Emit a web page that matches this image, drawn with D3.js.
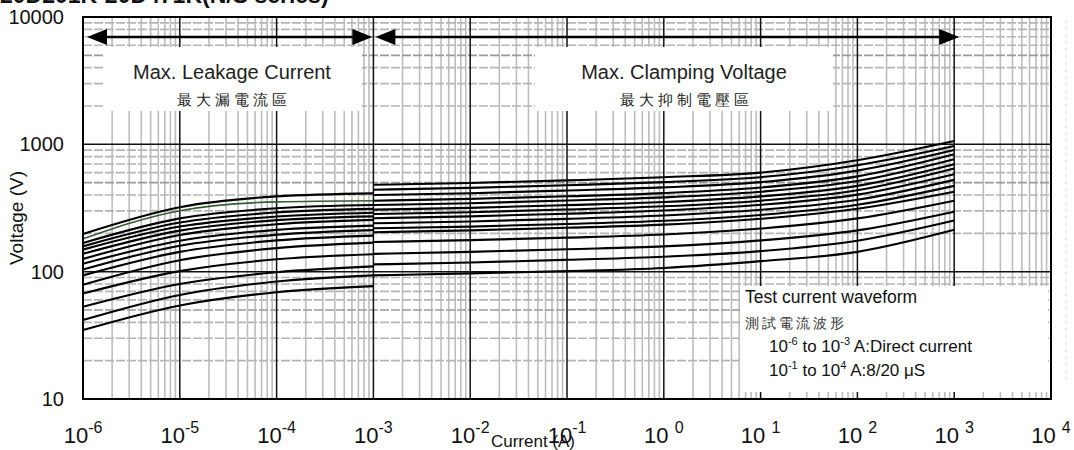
<!DOCTYPE html>
<html><head><meta charset="utf-8">
<script src="https://cdn.jsdelivr.net/npm/d3@7"></script>
<style>
html,body{margin:0;padding:0;background:#fff;}
svg{display:block;}
text{font-family:"Liberation Sans",Arial,sans-serif;}
</style></head>
<body>
<svg id="chart" width="1074" height="450"></svg>
<script>
// ---------------- data ----------------
const title = "20D201K-20D471K(N/S series)";
const xTickExps = [-6,-5,-4,-3,-2,-1,0,1,2,3,4];
const yTickValues = [10,100,1000,10000];
const yTickLabels = ["10","100","1000","10000"];

// Leakage region (DC): current points (A)
const leakCurrents = [1e-6, 1e-5, 1e-4, 1e-3];
const leakSeries = [
  [198, 321, 390, 412],
  [181, 301, 353, 361],
  [168, 262, 315, 334],
  [158, 243, 292, 311],
  [149, 226, 271, 290],
  [138, 210, 254, 272],
  [126, 194, 236, 255],
  [115.5, 175, 213, 230],
  [104, 160, 195, 212],
  [93.5, 143, 176, 192],
  [79, 123, 153, 169],
  [67.3, 101, 125, 137],
  [53, 80, 99, 110],
  [41.7, 65.6, 83.6, 93.5],
  [34.8, 54.3, 69, 77]
];
// Clamping region (8/20us): current points (A)
const clampCurrents = [1e-3, 1e-2, 1e-1, 1, 10, 100, 1000];
const clampSeries = [
  [481, 497, 521, 552, 600, 750, 1061],
  [440, 455, 477, 505, 552, 685, 970],
  [400, 413, 434, 459, 505, 622, 902],
  [361, 373, 391, 414, 458, 560, 835],
  [334, 345, 362, 383, 424, 515, 764],
  [307, 317, 333, 352, 390, 472, 698],
  [284, 293, 308, 326, 361, 436, 646],
  [263, 272, 285, 302, 335, 403, 583],
  [240, 248, 260, 276, 306, 367, 526],
  [219, 226, 237, 251, 279, 335, 472],
  [204, 211, 221, 234, 260, 312, 424],
  [171, 177, 185, 196, 218, 262, 361],
  [138, 143, 150, 158, 176, 211, 296],
  [114, 118, 124, 131, 145, 175, 252],
  [93.5, 97, 101, 107, 121, 143, 213]
];
const regionLabels = [
  {en:"Max. Leakage Current", zh:"最大漏電流區"},
  {en:"Max. Clamping Voltage", zh:"最大抑制電壓區"}
];
const legendLines = ["Test current waveform","測試電流波形"];

// ---------------- layout ----------------
const L = 83, R = 1051, T = 17, B = 399;
const svg = d3.select("#chart");
const x = d3.scaleLog().domain([1e-6, 1e4]).range([L, R]);
const y = d3.scaleLog().domain([10, 10000]).range([B, T]);

// title (partly cut at top, as in the scan)
svg.append("text").attr("x", 0).attr("y", 3)
  .attr("font-family", "'Liberation Serif','DejaVu Serif',serif")
  .attr("font-weight", "bold").attr("font-size", 23).attr("fill", "#111")
  .text(title);

const g = svg.append("g");

// minor vertical grid
const minorX = [];
for (let k = -6; k < 4; k++) for (let m = 2; m <= 9; m++) minorX.push(m * Math.pow(10, k));
g.selectAll(".vmin").data(minorX).enter().append("line")
  .attr("x1", d => x(d)).attr("x2", d => x(d)).attr("y1", T).attr("y2", B)
  .attr("stroke", "#bdbdbd").attr("stroke-width", 1.6);

// minor horizontal grid
const minorY = [];
for (let k = 1; k < 4; k++) for (let m = 2; m <= 9; m++) minorY.push(m * Math.pow(10, k));
g.selectAll(".hmin").data(minorY).enter().append("line")
  .attr("x1", L).attr("x2", R).attr("y1", d => y(d)).attr("y2", d => y(d))
  .attr("stroke", d => (d / Math.pow(10, Math.floor(Math.log10(d)))) === 5 ? "#9a9a9a" : "#b5b5b5")
  .attr("stroke-width", 1.6).attr("stroke-dasharray", "9,2");

// major grid
const majorX = d3.range(-5, 4).map(e => Math.pow(10, e));
g.selectAll(".vmaj").data(majorX).enter().append("line")
  .attr("x1", d => x(d)).attr("x2", d => x(d)).attr("y1", T).attr("y2", B)
  .attr("stroke", "#111").attr("stroke-width", 1.5);
g.selectAll(".hmaj").data([100, 1000]).enter().append("line")
  .attr("x1", L).attr("x2", R).attr("y1", d => y(d)).attr("y2", d => y(d))
  .attr("stroke", "#111").attr("stroke-width", 1.5);

// white annotation boxes
const boxes = [
  {x0: 103, x1: 362, y0: 47, y1: 111},
  {x0: 535, x1: 833, y0: 47, y1: 111},
  {x0: 740, x1: 1048, y0: 286, y1: 392}
];
g.selectAll(".box").data(boxes).enter().append("rect")
  .attr("x", d => d.x0).attr("y", d => d.y0)
  .attr("width", d => d.x1 - d.x0).attr("height", d => d.y1 - d.y0)
  .attr("fill", "#fff");

// region arrows
const arrowY = 37;
function arrow(x0, x1, leftHead, rightHead) {
  g.append("line").attr("x1", x0 + 5).attr("x2", x1 - 5).attr("y1", arrowY).attr("y2", arrowY)
    .attr("stroke", "#000").attr("stroke-width", 2.6);
  if (leftHead) g.append("path").attr("d", `M${x0},${arrowY} L${x0 + 20},${arrowY - 8} L${x0 + 20},${arrowY + 8} Z`).attr("fill", "#000");
  if (rightHead) g.append("path").attr("d", `M${x1},${arrowY} L${x1 - 20},${arrowY - 8} L${x1 - 20},${arrowY + 8} Z`).attr("fill", "#000");
}
arrow(x(1e-6) + 4, x(1e-3) - 1, true, true);
arrow(x(1e-3) + 2, x(1e3) + 5, true, true);

// curves
const line = d3.line().x(d => x(d[0])).y(d => y(d[1])).curve(d3.curveMonotoneX);
g.selectAll(".leak").data(leakSeries).enter().append("path")
  .attr("d", s => line(s.map((v, i) => [leakCurrents[i], v])))
  .attr("fill", "none")
  .attr("stroke", (s, i) => i === 1 ? "#335f33" : "#000")
  .attr("stroke-width", (s, i) => i === 1 ? 1.6 : 2.1);
g.selectAll(".clamp").data(clampSeries).enter().append("path")
  .attr("d", s => line(s.map((v, i) => [clampCurrents[i], v])))
  .attr("fill", "none").attr("stroke", "#000").attr("stroke-width", 2.1);

// plot border
g.append("rect").attr("x", L).attr("y", T).attr("width", R - L).attr("height", B - T)
  .attr("fill", "none").attr("stroke", "#000").attr("stroke-width", 2);

// region labels
const labelCx = [232, 684];
regionLabels.forEach((d, i) => {
  svg.append("text").attr("x", labelCx[i]).attr("y", 79).attr("text-anchor", "middle")
    .attr("font-size", 20).attr("fill", "#222").text(d.en);
  svg.append("text").attr("x", labelCx[i] + 2).attr("y", 105).attr("text-anchor", "middle")
    .attr("font-family", "'Noto Sans CJK TC',sans-serif").attr("font-size", 15)
    .attr("letter-spacing", 4).attr("fill", "#222").text(d.zh);
});

// legend text
svg.append("text").attr("x", 745).attr("y", 303).attr("font-size", 17.5).attr("fill", "#111").text(legendLines[0]);
svg.append("text").attr("x", 745).attr("y", 328).attr("font-family", "'Noto Sans CJK TC',sans-serif")
  .attr("font-size", 14).attr("letter-spacing", 3).attr("fill", "#333").text(legendLines[1]);
const l3 = svg.append("text").attr("x", 769).attr("y", 352).attr("font-size", 17).attr("fill", "#111");
l3.append("tspan").text("10");
l3.append("tspan").attr("dy", -7).attr("font-size", 11).text("-6");
l3.append("tspan").attr("dy", 7).text(" to 10");
l3.append("tspan").attr("dy", -7).attr("font-size", 11).text("-3");
l3.append("tspan").attr("dy", 7).text(" A:Direct current");
const l4 = svg.append("text").attr("x", 769).attr("y", 376).attr("font-size", 17).attr("fill", "#111");
l4.append("tspan").text("10");
l4.append("tspan").attr("dy", -7).attr("font-size", 11).text("-1");
l4.append("tspan").attr("dy", 7).text(" to 10");
l4.append("tspan").attr("dy", -7).attr("font-size", 11).text("4");
l4.append("tspan").attr("dy", 7).text("  A:8/20 μS");

// y tick labels
svg.selectAll(".ytl").data(yTickValues).enter().append("text")
  .attr("x", 64).attr("y", d => y(d) + 7).attr("text-anchor", "end")
  .attr("font-size", 20).attr("fill", "#111")
  .text((d, i) => yTickLabels[i]);

// x tick labels
xTickExps.forEach(e => {
  const t = svg.append("text").attr("x", x(Math.pow(10, e))).attr("y", 443)
    .attr("text-anchor", "middle").attr("font-size", 22).attr("fill", "#111");
  t.append("tspan").text(e >= 0 ? "10 " : "10");
  t.append("tspan").attr("dy", -10).attr("font-size", 16).text(String(e));
});

// axis titles
svg.append("text").attr("transform", "translate(23,218) rotate(-90)")
  .attr("text-anchor", "middle").attr("font-size", 19).attr("fill", "#111").text("Voltage (V)");
svg.append("text").attr("x", 533).attr("y", 447).attr("text-anchor", "middle")
  .attr("font-size", 17).attr("fill", "#111").text("Current (A)");

// faint scan artefact line at right
svg.append("line").attr("x1", 1066).attr("x2", 1066).attr("y1", 20).attr("y2", 380)
  .attr("stroke", "#ddd").attr("stroke-width", 1).attr("stroke-dasharray", "3,4");
</script>
</body></html>
